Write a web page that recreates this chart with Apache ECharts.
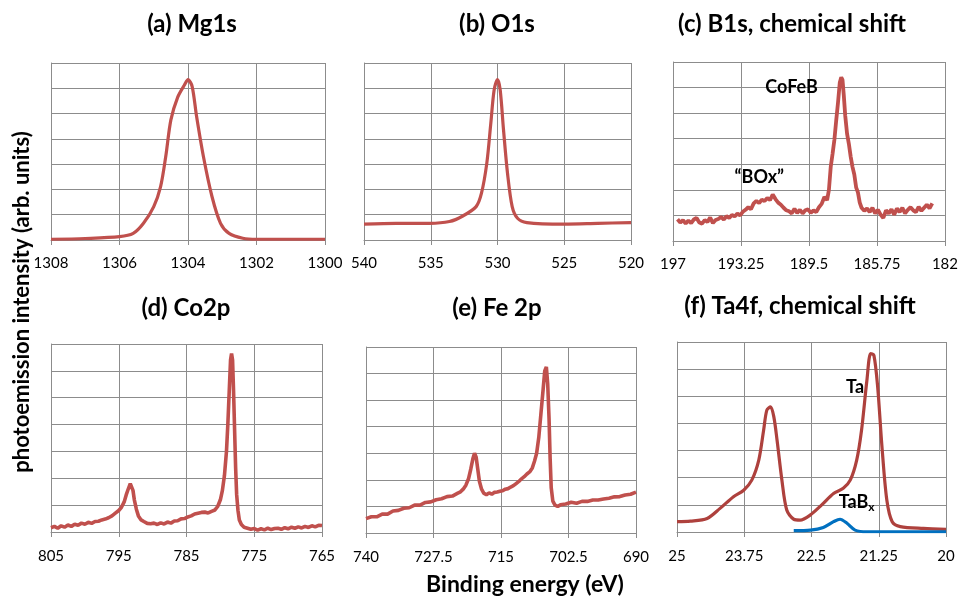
<!DOCTYPE html>
<html>
<head>
<meta charset="utf-8">
<script src="https://cdn.jsdelivr.net/npm/echarts@6/dist/echarts.min.js"></script>
<style>
  html, body { margin: 0; padding: 0; background: #fff; }
  #chart { width: 961px; height: 602px; }
</style>
</head>
<body>
<div id="chart"></div>
<script>
// (a) Mg1s
const mgE = [1308, 1307, 1306, 1305.6, 1305.3, 1305.0, 1304.8, 1304.65, 1304.5, 1304.3, 1304.1, 1304.0, 1303.88, 1303.75, 1303.55, 1303.3, 1303.05, 1302.8, 1302.4, 1302, 1301, 1300]
const mgI = [0.03, 0.06, 0.13, 0.26, 0.66, 1.32, 2.11, 3.3, 4.75, 5.65, 6.14, 6.34, 6.08, 4.89, 3.3, 1.72, 0.66, 0.26, 0.07, 0.03, 0.03, 0.03]

// (b) O1s
const oE = [540, 537.6, 535.1, 533.6, 532.6, 531.6, 531.2, 530.8, 530.5, 530.25, 530, 529.8, 529.55, 529.25, 528.9, 528.5, 527.8, 525, 522.5, 520]
const oI = [0.63, 0.66, 0.66, 0.73, 0.95, 1.32, 1.85, 3.04, 4.62, 5.94, 6.34, 5.94, 4.36, 2.64, 1.32, 0.86, 0.69, 0.63, 0.66, 0.69]

// (c) B1s
const bE = [196.75, 196.6, 196.45, 196.3, 196.15, 196.0, 195.85, 195.7, 195.55, 195.4, 195.25, 195.1, 194.95, 194.8, 194.65, 194.5, 194.35, 194.2, 194.05, 193.9,
  193.75, 193.6, 193.45, 193.3, 193.15, 193.0, 192.85, 192.7, 192.55, 192.4, 192.25, 192.1, 191.95, 191.8, 191.65, 191.5, 191.35, 191.2, 191.05, 190.9,
  190.75, 190.6, 190.45, 190.3, 190.15, 190.0, 189.85, 189.7, 189.55, 189.4, 189.25, 189.1, 188.95, 188.8, 188.65, 188.5, 188.4, 188.3, 188.2, 188.1,
  188.0, 187.9, 187.8, 187.72, 187.65, 187.58, 187.5, 187.4, 187.3, 187.2, 187.1, 187.0, 186.9, 186.8, 186.7, 186.6, 186.45, 186.3, 186.15, 186.0,
  185.85, 185.7, 185.55, 185.4, 185.25, 185.1, 184.95, 184.8, 184.65, 184.5, 184.35, 184.2, 184.05, 183.9, 183.75, 183.6, 183.45, 183.3, 183.15, 183.0,
  182.85, 182.7]
const bI = [0.85, 0.72, 0.82, 0.68, 0.80, 0.70, 0.84, 0.90, 0.72, 0.68, 0.82, 0.74, 0.92, 0.70, 0.82, 0.86, 0.94, 0.84, 0.97, 0.90,
  1.02, 0.96, 1.07, 1.00, 1.14, 1.22, 1.32, 1.24, 1.47, 1.57, 1.48, 1.62, 1.56, 1.68, 1.60, 1.82, 1.64, 1.50, 1.42, 1.30,
  1.20, 1.16, 1.08, 1.26, 1.10, 1.22, 1.08, 1.20, 1.24, 1.10, 1.20, 1.13, 1.32, 1.45, 1.72, 1.60, 2.00, 2.90, 3.40, 3.95,
  4.70, 5.40, 6.20, 6.40, 6.30, 5.70, 4.90, 4.20, 3.80, 3.30, 2.90, 2.60, 2.10, 1.90, 1.50, 1.30, 1.18, 1.27, 1.13, 1.30,
  1.08, 1.22, 1.03, 0.90, 1.20, 1.08, 1.24, 1.03, 1.27, 1.13, 1.30, 1.08, 1.22, 1.32, 1.20, 1.13, 1.34, 1.18, 1.30, 1.42,
  1.28, 1.47]

// (d) Co2p
const coE = [805, 804.5, 804, 803.5, 803, 802.5, 802, 801.5, 801, 800.5, 800, 799.5, 799, 798.5, 798, 797.5, 797, 796.5, 796, 795.5,
  795, 794.6, 794.2, 793.9, 793.6, 793.3, 793.1, 792.9, 792.7, 792.4, 792.1, 791.7, 791.3, 790.8, 790.3, 789.8, 789.3, 788.8, 788.3, 787.8,
  787.3, 786.8, 786.3, 785.8, 785.3, 784.8, 784.3, 783.8, 783.3, 782.8, 782.3, 781.8, 781.3, 780.8, 780.4, 780.0, 779.7, 779.4, 779.1, 778.9,
  778.7, 778.5, 778.35, 778.2, 778.05, 777.9, 777.75, 777.6, 777.4, 777.2, 776.9, 776.5, 776, 775.5, 775, 774.5, 774, 773.5, 773, 772.5,
  772, 771.5, 771, 770.5, 770, 769.5, 769, 768.5, 768, 767.5, 767, 766.5, 766, 765.5, 765]
const coI = [0.16, 0.21, 0.14, 0.23, 0.18, 0.26, 0.21, 0.29, 0.25, 0.33, 0.29, 0.36, 0.32, 0.39, 0.40, 0.45, 0.48, 0.53, 0.60, 0.70,
  0.80, 0.92, 1.12, 1.38, 1.60, 1.80, 1.78, 1.55, 1.20, 0.85, 0.60, 0.45, 0.39, 0.32, 0.31, 0.33, 0.28, 0.34, 0.30, 0.37,
  0.33, 0.41, 0.42, 0.49, 0.50, 0.56, 0.60, 0.67, 0.70, 0.73, 0.74, 0.71, 0.77, 0.82, 0.95, 1.20, 1.55, 2.10, 3.00, 4.00,
  5.20, 6.40, 6.65, 6.40, 5.20, 3.80, 2.40, 1.40, 0.80, 0.45, 0.28, 0.18, 0.14, 0.10, 0.13, 0.07, 0.12, 0.08, 0.14, 0.09,
  0.13, 0.14, 0.10, 0.16, 0.12, 0.18, 0.14, 0.19, 0.15, 0.21, 0.17, 0.23, 0.19, 0.25, 0.24]

// (e) Fe 2p
const feE = [740, 739, 738, 737, 736, 735, 734, 733, 732, 731, 730, 729, 728, 727, 726, 725, 724, 723, 722.5, 722,
  721.5, 721, 720.6, 720.2, 719.9, 719.6, 719.3, 719.0, 718.6, 718.2, 717.7, 717.2, 716.7, 716.2, 715.7, 715.2, 714.7, 714.2, 713.7, 713.2,
  712.7, 712.2, 711.7, 711.2, 710.7, 710.2, 709.7, 709.2, 708.8, 708.4, 708.0, 707.6, 707.2, 706.9, 706.6, 706.35, 706.1, 705.9, 705.7, 705.4,
  705.0, 704.5, 704, 703, 702, 701, 700, 699, 698, 697, 696, 695, 694, 693, 692, 691, 690]
const feI = [0.54, 0.61, 0.61, 0.71, 0.71, 0.83, 0.85, 0.93, 0.95, 1.05, 1.05, 1.15, 1.17, 1.25, 1.29, 1.37, 1.39, 1.50, 1.55, 1.65,
  1.80, 2.05, 2.40, 2.80, 3.00, 2.85, 2.40, 1.95, 1.65, 1.50, 1.44, 1.51, 1.46, 1.53, 1.54, 1.57, 1.59, 1.65, 1.67, 1.73,
  1.78, 1.86, 1.94, 2.04, 2.12, 2.22, 2.30, 2.45, 2.70, 3.00, 3.60, 4.50, 5.40, 6.10, 6.25, 5.60, 4.30, 2.80, 1.70, 1.20,
  1.05, 1.00, 1.06, 1.09, 1.16, 1.12, 1.19, 1.19, 1.24, 1.24, 1.28, 1.31, 1.36, 1.37, 1.43, 1.46, 1.54]

// (f) Ta4f, Ta and TaBx components
const taE = [25, 24.75, 24.44, 24.2, 23.95, 23.76, 23.61, 23.48, 23.39, 23.33, 23.26, 23.2, 23.14, 23.05, 22.96, 22.83, 22.71, 22.52, 22.31, 22.09,
  21.91, 21.78, 21.66, 21.57, 21.47, 21.4, 21.34, 21.27, 21.19, 21.1, 21.0, 20.85, 20.42, 20]
const taI = [0.38, 0.40, 0.50, 0.87, 1.30, 1.54, 1.91, 2.65, 3.75, 4.49, 4.61, 4.24, 3.38, 1.91, 0.81, 0.47, 0.44, 0.63, 1.00, 1.42,
  1.61, 1.91, 2.65, 3.75, 5.59, 6.57, 6.51, 5.34, 3.14, 1.18, 0.38, 0.20, 0.13, 0.10]
const tabE = [22.83, 22.52, 22.28, 22.09, 21.97, 21.84, 21.69, 21.47, 21, 20.5, 20]
const tabI = [0.05, 0.07, 0.17, 0.38, 0.47, 0.32, 0.07, 0.01, 0.01, 0.01, 0.01]

// x axis ranges [min, max, interval]
const xRanges = [[1300, 1308, 2], [520, 540, 5], [182, 197, 3.75], [765, 805, 10], [690, 740, 12.5], [20, 25, 1.25]]
const titles = ['(a) Mg1s', '(b) O1s', '(c) B1s, chemical shift', '(d) Co2p', '(e) Fe 2p', '(f) Ta4f, chemical shift']

const FONT = 'Lato, "Open Sans", sans-serif'
const RED = '#C0504D'
const GRIDC = '#8c8c8c'

const zip = (xs, ys) => xs.map((x, i) => [x, ys[i]])

const grids = [
  { left: 51, top: 63, width: 274, height: 177 },
  { left: 364, top: 63, width: 267, height: 177 },
  { left: 673, top: 62, width: 274, height: 179 },
  { left: 51, top: 344, width: 271, height: 188 },
  { left: 366, top: 347, width: 270, height: 186 },
  { left: 677, top: 342, width: 269, height: 190 }
]

const xAxes = xRanges.map((r, i) => ({
  type: 'value',
  gridIndex: i,
  inverse: true,
  min: r[0],
  max: r[1],
  interval: r[2],
  axisLine: { show: true, lineStyle: { color: GRIDC, width: 1 } },
  axisTick: { show: true, inside: false, length: 5, lineStyle: { color: GRIDC } },
  splitLine: { show: true, lineStyle: { color: GRIDC, width: 1 } },
  axisLabel: {
    color: '#000',
    fontSize: 15,
    fontFamily: FONT,
    margin: i < 3 ? 16 : 17,
    formatter: v => String(v)
  }
}))

const yAxes = grids.map((g, i) => ({
  type: 'value',
  gridIndex: i,
  min: 0,
  max: 7,
  interval: 1,
  axisLine: { show: true, lineStyle: { color: GRIDC, width: 1 } },
  axisTick: { show: false },
  axisLabel: { show: false },
  splitLine: { show: true, lineStyle: { color: GRIDC, width: 1 } }
}))

const noteLabel = { fontSize: 18, fontWeight: 'bold', fontFamily: FONT, color: '#000' }

function line (i, data, color, smooth, width) {
  return {
    type: 'line',
    xAxisIndex: i,
    yAxisIndex: i,
    data: data,
    showSymbol: false,
    smooth: smooth,
    lineStyle: { color: color, width: width || 3.2 },
    itemStyle: { color: color },
    silent: true
  }
}

function note (coord, text, rich) {
  return {
    coord: coord,
    symbol: 'circle',
    symbolSize: 0,
    label: Object.assign({ show: true, position: 'inside', formatter: text, rich: rich }, noteLabel)
  }
}

const series = [
  line(0, zip(mgE, mgI), RED, 0.3),
  line(1, zip(oE, oI), RED, 0.3),
  line(2, zip(bE, bI), RED, false, 3.8),
  line(3, zip(coE, coI), RED, false, 3.6),
  line(4, zip(feE, feI), RED, false, 3.6),
  line(5, zip(taE, taI), '#AE413D', 0.3),
  line(5, zip(tabE, tabI), '#0070C0', 0.3)
]

// text notes inside panels (c) and (f)
series[2].markPoint = {
  silent: true,
  data: [note([190.46, 6.03], 'CoFeB'), note([192.24, 2.51], '\u201cBOx\u201d')]
}
series[5].markPoint = {
  silent: true,
  data: [
    note([21.69, 5.35], 'Ta'),
    note([21.66, 1.1], '{a|TaB}{b|x}', {
      a: noteLabel,
      b: { fontSize: 12, fontWeight: 'bold', fontFamily: FONT, color: '#000', padding: [10, 0, 0, 0] }
    })
  ]
}

const titlePos = [[192, 24], [497, 24], [792, 24], [186, 308], [497, 308], [800, 306]]
const bold = (size) => 'bold ' + size + 'px ' + FONT

const graphics = titles.map((t, i) => ({
  type: 'text',
  x: titlePos[i][0],
  y: titlePos[i][1],
  style: { text: t, font: bold(24), fill: '#000', textAlign: 'center', textVerticalAlign: 'middle' }
}))
graphics.push({
  type: 'text',
  x: 22,
  y: 302,
  rotation: Math.PI / 2,
  style: { text: 'photoemission intensity (arb. units)', font: bold(22), fill: '#000', textAlign: 'center', textVerticalAlign: 'middle' }
})
graphics.push({
  type: 'text',
  x: 525,
  y: 585,
  style: { text: 'Binding energy (eV)', font: bold(23), fill: '#000', textAlign: 'center', textVerticalAlign: 'middle' }
})

const chart = echarts.init(document.getElementById('chart'))
chart.setOption({
  animation: false,
  backgroundColor: '#fff',
  grid: grids,
  xAxis: xAxes,
  yAxis: yAxes,
  series: series,
  graphic: graphics
})
</script>
</body>
</html>
